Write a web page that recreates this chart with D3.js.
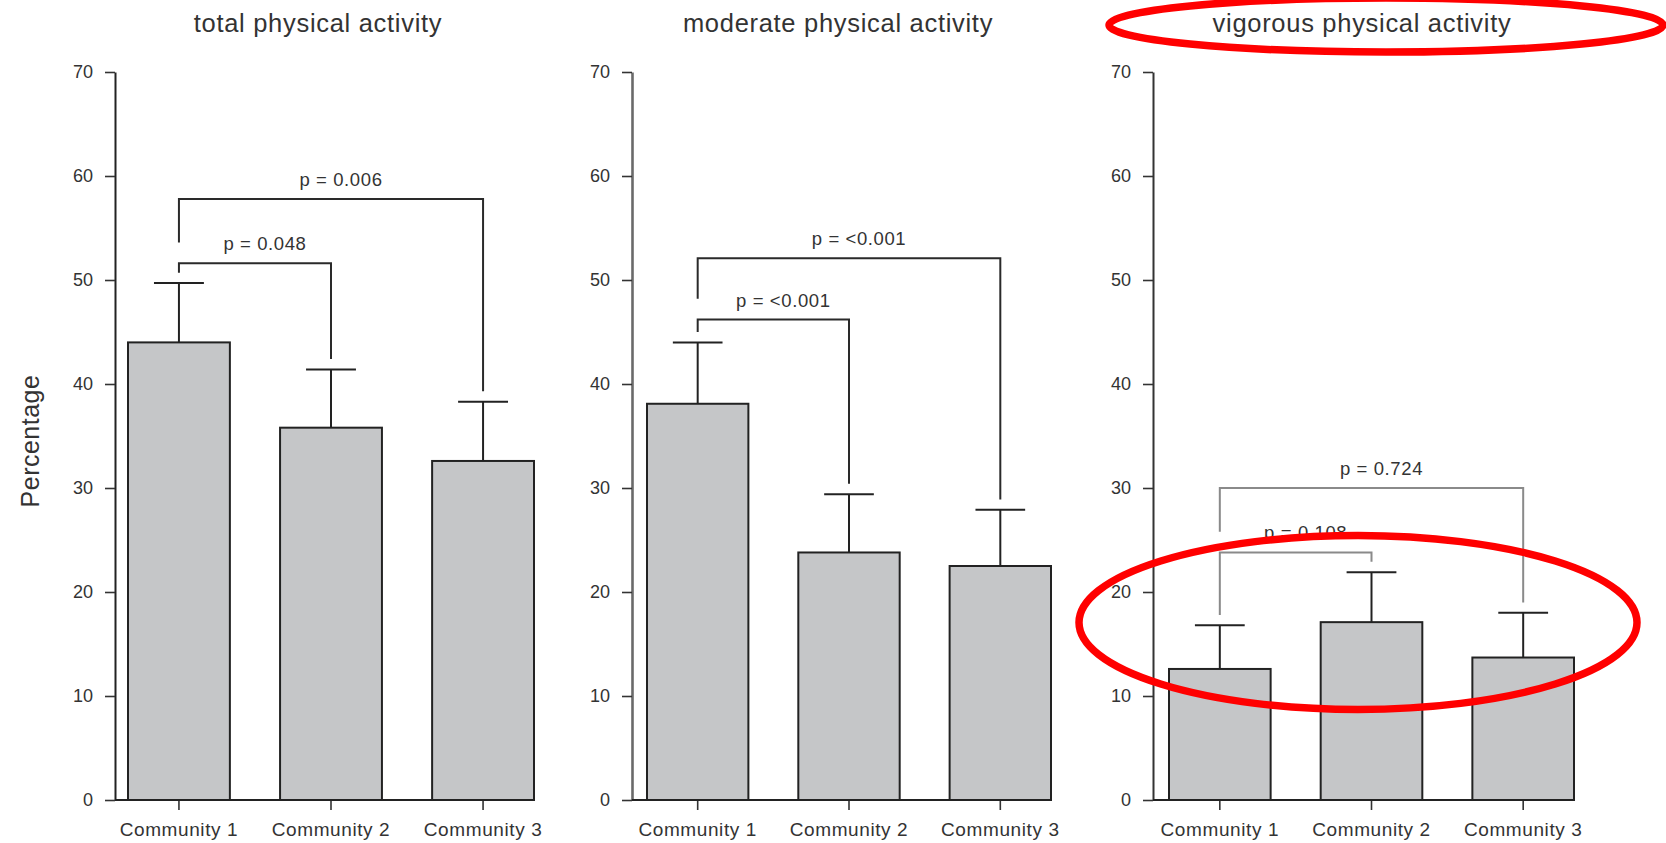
<!DOCTYPE html>
<html>
<head>
<meta charset="utf-8">
<script src="https://cdn.jsdelivr.net/npm/d3@7/dist/d3.min.js"></script>
<style>
  html, body { margin: 0; padding: 0; background: #fff; }
  svg { display: block; }
  text { font-family: "Liberation Sans", Arial, sans-serif; fill: #333; }
</style>
</head>
<body>
<svg id="chart" width="1666" height="843"></svg>
<script>
// Communities compared in every panel
const categories = ["Community 1", "Community 2", "Community 3"];
const panelTitles = ["total physical activity", "moderate physical activity", "vigorous physical activity"];
const yTicks = [0, 10, 20, 30, 40, 50, 60, 70];

// Mean percentage per community and upper error-bar length
const totalMeans = [44.0, 35.8, 32.6];
const totalErrors = [5.7, 5.6, 5.7];
const moderateMeans = [38.1, 23.8, 22.5];
const moderateErrors = [5.9, 5.6, 5.4];
const vigorousMeans = [12.6, 17.1, 13.7];
const vigorousErrors = [4.2, 4.8, 4.3];

// Pairwise comparisons: community indices, bracket level (%), p-value text
const comparisonPairs = [[0, 1], [0, 2]];
const totalBracketLevels = [51.6, 57.8];
const totalPValues = ["p = 0.048", "p = 0.006"];
const moderateBracketLevels = [46.2, 52.1];
const moderatePValues = ["p = <0.001", "p = <0.001"];
const vigorousBracketLevels = [23.8, 30.0];
const vigorousPValues = ["p = 0.108", "p = 0.724"];

const panels = [
  { title: panelTitles[0], means: totalMeans, errors: totalErrors, levels: totalBracketLevels, pvals: totalPValues,
    axisX: 115, bandStart: 128, bandEnd: 534, titleX: 318, axisColor: "#222", axisWidth: 2, bracketColor: "#2a2a2a" },
  { title: panelTitles[1], means: moderateMeans, errors: moderateErrors, levels: moderateBracketLevels, pvals: moderatePValues,
    axisX: 632, bandStart: 647, bandEnd: 1051, titleX: 838, axisColor: "#6a6a6a", axisWidth: 2.6, bracketColor: "#2a2a2a" },
  { title: panelTitles[2], means: vigorousMeans, errors: vigorousErrors, levels: vigorousBracketLevels, pvals: vigorousPValues,
    axisX: 1153, bandStart: 1169, bandEnd: 1574, titleX: 1362, axisColor: "#333", axisWidth: 2, bracketColor: "#8a8a8a" }
];

const svg = d3.select("#chart");
svg.append("rect").attr("width", 1666).attr("height", 843).attr("fill", "#fff");

const y = d3.scaleLinear().domain([0, 70]).range([800, 72]);

panels.forEach(p => {
  const g = svg.append("g");
  const x = d3.scaleBand().domain(categories).range([p.bandStart, p.bandEnd])
    .paddingInner(0.33).paddingOuter(0);
  const bw = x.bandwidth();
  const cx = i => x(categories[i]) + bw / 2;
  const errTop = p.means.map((m, i) => m + p.errors[i]);

  // panel title
  g.append("text").attr("x", p.titleX).attr("y", 32).attr("text-anchor", "middle")
    .style("font-size", "25.5px").style("letter-spacing", "0.7px").text(p.title);

  // bars
  g.selectAll("rect.bar").data(p.means).join("rect").attr("class", "bar")
    .attr("x", (d, i) => x(categories[i])).attr("width", bw)
    .attr("y", d => y(d)).attr("height", d => y(0) - y(d))
    .attr("fill", "#c5c6c8").attr("stroke", "#222").attr("stroke-width", 2);

  // error bars (upper half only)
  const eb = g.selectAll("g.err").data(p.means).join("g").attr("class", "err");
  eb.append("line").attr("x1", (d, i) => cx(i)).attr("x2", (d, i) => cx(i))
    .attr("y1", d => y(d)).attr("y2", (d, i) => y(errTop[i]))
    .attr("stroke", "#222").attr("stroke-width", 2);
  eb.append("line").attr("x1", (d, i) => cx(i) - bw * 0.245).attr("x2", (d, i) => cx(i) + bw * 0.245)
    .attr("y1", (d, i) => y(errTop[i])).attr("y2", (d, i) => y(errTop[i]))
    .attr("stroke", "#222").attr("stroke-width", 2);

  // y axis
  const yAxis = g.append("g").attr("transform", `translate(${p.axisX},0)`)
    .call(d3.axisLeft(y).tickValues(yTicks).tickSize(10).tickSizeOuter(0).tickPadding(12));
  yAxis.select(".domain").attr("stroke", p.axisColor).attr("stroke-width", p.axisWidth);
  yAxis.selectAll(".tick line").attr("stroke", "#333").attr("stroke-width", 1.6);
  yAxis.selectAll(".tick text").style("font-size", "18px").attr("fill", "#333")
    .style("font-family", "'Liberation Sans', Arial, sans-serif");

  // x axis: baseline from y axis to the last bar, ticks under bar centres
  const xAxis = g.append("g").attr("transform", `translate(0,${y(0)})`)
    .call(d3.axisBottom(x).tickSize(10).tickSizeOuter(0).tickPadding(13));
  xAxis.select(".domain").remove();
  g.append("line").attr("x1", p.axisX).attr("x2", p.bandEnd).attr("y1", y(0)).attr("y2", y(0))
    .attr("stroke", "#222").attr("stroke-width", 2);
  xAxis.selectAll(".tick line").attr("stroke", "#333").attr("stroke-width", 1.6);
  xAxis.selectAll(".tick text").style("font-size", "19px").style("letter-spacing", "0.6px").attr("fill", "#333")
    .style("font-family", "'Liberation Sans', Arial, sans-serif");

  // comparison brackets with p-values
  comparisonPairs.forEach((pair, k) => {
    const level = p.levels[k];
    const legEnd = idx => {
      let v = errTop[idx] + 1;
      comparisonPairs.forEach((other, j) => {
        if (j !== k && p.levels[j] < level && idx >= other[0] && idx <= other[1]) v = Math.max(v, p.levels[j] + 2);
      });
      return v;
    };
    const xl = cx(pair[0]), xr = cx(pair[1]);
    g.append("path")
      .attr("d", `M${xl},${y(legEnd(pair[0]))}V${y(level)}H${xr}V${y(legEnd(pair[1]))}`)
      .attr("fill", "none").attr("stroke", p.bracketColor).attr("stroke-width", 2);
    g.append("text").attr("x", (xl + xr) / 2 + 10).attr("y", y(level) - 13)
      .attr("text-anchor", "middle").style("font-size", "18.5px").style("letter-spacing", "0.6px")
      .text(p.pvals[k]);
  });
});

// y axis label
svg.append("text").attr("transform", "translate(39,441) rotate(-90)").attr("text-anchor", "middle")
  .style("font-size", "25px").style("letter-spacing", "0.5px").text("Percentage");

// red highlight ellipses around the vigorous panel
svg.append("ellipse").attr("cx", 1386).attr("cy", 25).attr("rx", 277).attr("ry", 27)
  .attr("fill", "none").attr("stroke", "#ff0000").attr("stroke-width", 7.5);
svg.append("ellipse").attr("cx", 1358).attr("cy", 622.5).attr("rx", 279).attr("ry", 87)
  .attr("fill", "none").attr("stroke", "#ff0000").attr("stroke-width", 7.5);
</script>
</body>
</html>
